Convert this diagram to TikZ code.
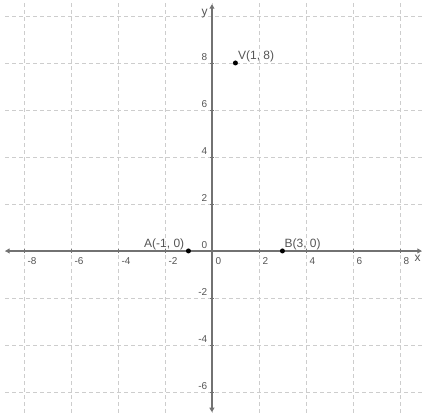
\documentclass[tikz,border=0pt]{standalone}
\usepackage{fontspec}
\setmainfont{Liberation Sans}
\usetikzlibrary{arrows.meta,positioning}
\definecolor{axisgray}{HTML}{727272}
\definecolor{gridgray}{HTML}{CDCDCD}
\definecolor{labelgray}{HTML}{555555}
\tikzset{
  grid line/.style = {gridgray, line width=0.8pt, dash pattern=on 4pt off 3pt},
  axis line/.style = {axisgray, line width=1.3pt,
                      {Triangle[length=4.5pt,width=5pt]}-{Triangle[length=4.5pt,width=5pt]}},
  tick mark/.style = {axisgray, line width=0.7pt},
  ticklabel/.style = {font=\fontsize{10}{11}\selectfont, text=labelgray, inner sep=1pt},
  ptlabel/.style   = {font=\fontsize{12}{13}\selectfont, text=labelgray, inner sep=1pt},
  pt dot/.style    = {circle, fill=black, inner sep=0pt, minimum size=5pt},
}

\begin{document}
\begin{tikzpicture}[x=23.5pt,y=23.5pt]
  \useasboundingbox (-9.02,-6.89) rectangle (8.94,10.68);

  % ---- grid ---------------------------------------------------------------
  \foreach \gx in {-8,-6,...,8}
    \draw[grid line] (\gx,-6.89) -- (\gx,10.6);
  \foreach \gy in {-6,-4,...,10}
    \draw[grid line] (-8.8,\gy) -- (8.94,\gy);

  % ---- axes ---------------------------------------------------------------
  \coordinate (xmin) at (-8.8,0);
  \coordinate (xmax) at (8.93,0);
  \coordinate (ymin) at (0,-6.86);
  \coordinate (ymax) at (0,10.5);
  \draw[axis line] (xmin) -- (xmax);
  \draw[axis line] (ymin) -- (ymax);
  \node[ticklabel,font=\fontsize{12}{13}\selectfont,anchor=north east,yshift=-3pt] (xname) at (xmax) {x};
  \node[ticklabel,font=\fontsize{12}{13}\selectfont,anchor=east,xshift=-3pt] (yname) at (0,10.1) {y};

  \foreach \gx [count=\i] in {-8,-6,...,8} {
    \draw[tick mark] (\gx,-0.08) -- (\gx,0.08);
    \node[ticklabel,anchor=north west,xshift=2.5pt,yshift=-5pt] (xl\i) at (\gx,0) {\gx};
  }
  \foreach \gy [count=\i] in {-6,-4,...,8} {
    \draw[tick mark] (-0.08,\gy) -- (0.08,\gy);
    \node[ticklabel,anchor=south east,xshift=-3.5pt,yshift=1.5pt] (yl\i) at (0,\gy) {\gy};
  }

  % ---- points -------------------------------------------------------------
  \node[pt dot] (V) at (1,8) {};
  \node[pt dot] (A) at (-1,0) {};
  \node[pt dot] (B) at (3,0) {};
  \node[ptlabel,anchor=south west,xshift=1.5pt] (Vlab) at (V.center) {V(1, 8)};
  \node[ptlabel,anchor=south east,xshift=-3pt] (Alab) at (A.center) {A(-1, 0)};
  \node[ptlabel,anchor=south west,xshift=1pt] (Blab) at (B.center) {B(3, 0)};
\end{tikzpicture}
\end{document}
